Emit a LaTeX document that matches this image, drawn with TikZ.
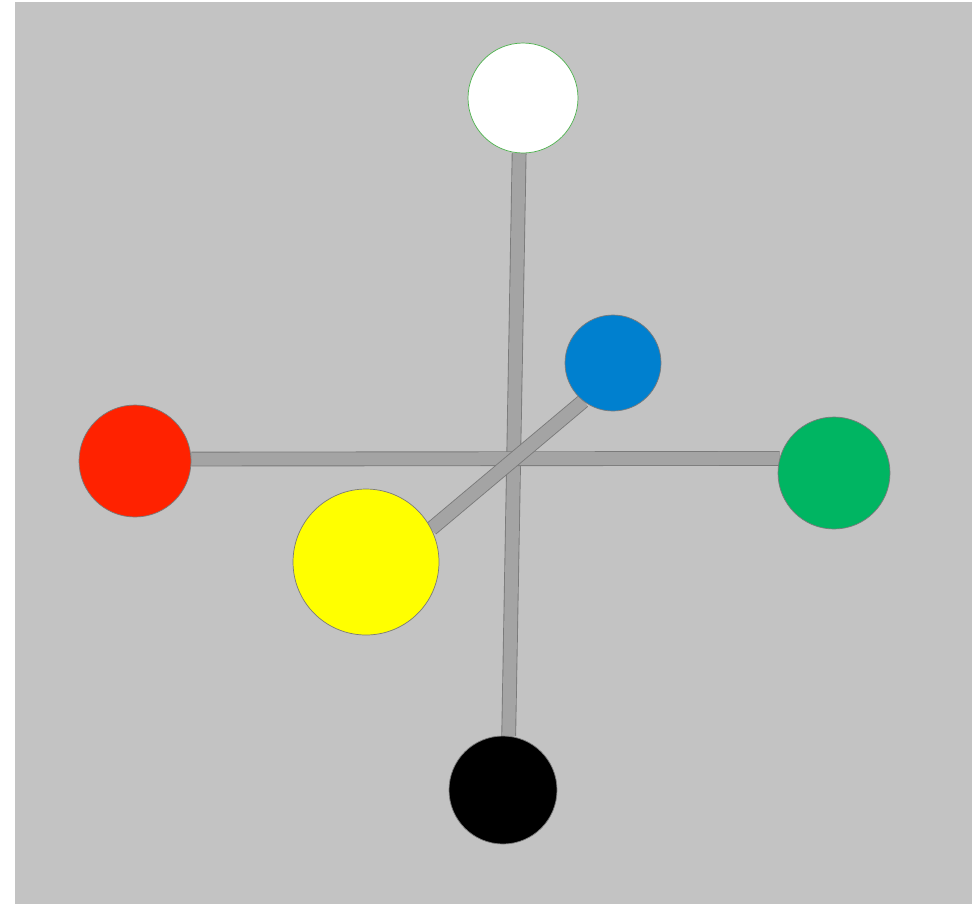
\documentclass[tikz,border=0pt]{standalone}
\usepackage{tikz}
\usetikzlibrary{backgrounds}
\usepackage{xcolor}

\definecolor{fundo}{HTML}{C3C3C3}
\definecolor{haste}{HTML}{A4A4A4}
\definecolor{borda}{HTML}{7A7A7A}
\definecolor{azul}{HTML}{0080CF}
\definecolor{vermelho}{HTML}{FF2200}
\definecolor{verde}{HTML}{00B562}
\definecolor{amarelo}{HTML}{FFFF00}

\tikzset{
  bola/.style={circle, inner sep=0pt, draw=borda, line width=0.4pt},
  vareta/.style={draw=borda, line width=0.5pt, double=haste, double distance=7.4pt}
}

\begin{document}
\begin{tikzpicture}[x=0.02cm, y=-0.02cm]
\useasboundingbox (0,0) rectangle (979,904);
% Bolas
\begin{scope}
\node[bola, fill=white, draw=green!40!gray, minimum size=2.2cm] (branca) at (523,98) {};
\node[bola, fill=azul, minimum size=1.92cm] (azul) at (613,363) {};
\node[bola, fill=vermelho, minimum size=2.24cm] (vermelha) at (135,461) {};
\node[bola, fill=verde, minimum size=2.24cm] (verde) at (834,473) {};
\node[bola, fill=amarelo, minimum size=2.92cm] (amarela) at (366,562) {};
\node[bola, fill=black, minimum size=2.16cm] (preta) at (503,790) {};
\end{scope}
% Fundo e varetas
\begin{scope}[on background layer]
\fill[white] (0,0) rectangle (979,904);
\fill[fundo] (15,2) rectangle (972,904);
\draw[vareta] (branca.-94) -- (preta.84);
\draw[vareta] (vermelha.2) -- (verde.165);
\draw[vareta] (azul.-128) -- (amarela.27);
\end{scope}
\end{tikzpicture}
\end{document}
